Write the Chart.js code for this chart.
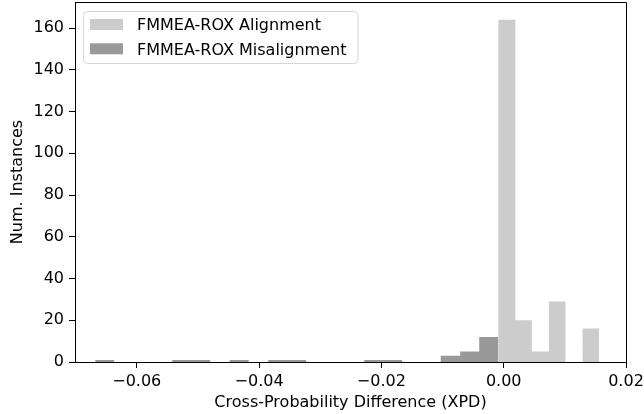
<!DOCTYPE html>
<html>
<head>
<meta charset="utf-8">
<script src="https://cdn.jsdelivr.net/npm/chart.js@4.4.0/dist/chart.umd.min.js"></script>
<style>
  html, body { margin: 0; padding: 0; background: #fff; }
</style>
</head>
<body>
<canvas id="xpdhist" width="644" height="414"></canvas>
<script>
// histogram bins: left edge of each bin (plus the closing edge) and the count in it
const alignEdges = [-0.0009, 0.0019, 0.0046, 0.0074, 0.0101, 0.0129, 0.0156];
const alignCounts = [164, 20, 5, 29, 0, 16];

const misalignEdges = [-0.0668, -0.0637, -0.0605, -0.0574, -0.0542, -0.0511, -0.0480, -0.0448,
  -0.0417, -0.0385, -0.0354, -0.0323, -0.0291, -0.0260, -0.0228, -0.0197, -0.0166, -0.0134,
  -0.0103, -0.0071, -0.0040, -0.0009];
const misalignCounts = [1, 0, 0, 0, 1, 1, 0, 1, 0, 1, 1, 0, 0, 0, 1, 1, 0, 0, 3, 5, 12];

const xTicks = [-0.06, -0.04, -0.02, 0.00, 0.02];
const yTicks = [0, 20, 40, 60, 80, 100, 120, 140, 160];

Chart.defaults.font.family = '"DejaVu Sans", sans-serif';
Chart.defaults.font.size = 16;
Chart.defaults.color = '#000';

// each bin holds its count up to the next edge (stepped line, filled down to 0)
function steps(edges, counts) {
  return edges.map((e, i) => ({ x: e, y: i < counts.length ? counts[i] : 0 }));
}

// axes keep a fixed size and don't push the plot area in for their edge labels
function fixSize(prop, size) {
  return a => {
    a[prop] = size;
    a.paddingTop = a.paddingBottom = a.paddingLeft = a.paddingRight = 0;
  };
}

// matplotlib-like legend box in the upper left corner of the plot
const legendBox = {
  id: 'legendBox',
  afterDraw(chart) {
    const { ctx, chartArea } = chart;
    ctx.save();
    ctx.font = '16px "DejaVu Sans"';
    const items = chart.data.datasets.map(ds => ({ text: ds.label, color: ds.backgroundColor }));
    const textW = Math.max(...items.map(it => ctx.measureText(it.text).width));
    const x = chartArea.left + 8, y = chartArea.top + 9;
    const w = 7 + 33 + 14 + textW + 11, h = 52;
    ctx.beginPath();
    ctx.roundRect(x + 0.5, y + 0.5, w, h, 4);
    ctx.fillStyle = 'rgba(255,255,255,0.8)';
    ctx.fill();
    ctx.strokeStyle = 'rgba(204,204,204,0.8)';
    ctx.lineWidth = 1;
    ctx.stroke();
    items.forEach((it, i) => {
      const rowY = y + 8 + i * 24.3;
      ctx.fillStyle = it.color;
      ctx.fillRect(x + 7, rowY, 33, 11);
      ctx.fillStyle = '#000';
      ctx.textBaseline = 'alphabetic';
      ctx.fillText(it.text, x + 54, rowY + 11.3);
    });
    ctx.restore();
  }
};

// top and right spines
const frame = {
  id: 'frame',
  afterDraw(chart) {
    const { ctx, chartArea: a } = chart;
    ctx.save();
    ctx.strokeStyle = '#000';
    ctx.lineWidth = 1;
    ctx.beginPath();
    ctx.moveTo(Math.round(a.left) + 0.5, Math.round(a.top) + 0.5);
    ctx.lineTo(Math.round(a.right) + 0.5, Math.round(a.top) + 0.5);
    ctx.lineTo(Math.round(a.right) + 0.5, Math.round(a.bottom) + 0.5);
    ctx.stroke();
    ctx.restore();
  }
};

new Chart('xpdhist', {
  type: 'line',
  data: {
    datasets: [{
      label: 'FMMEA-ROX Alignment',
      data: steps(alignEdges, alignCounts),
      backgroundColor: 'rgb(204, 204, 204)',
      borderColor: 'rgba(0, 0, 0, 0)',
      borderWidth: 0,
      stepped: 'before',
      fill: 'origin',
      pointRadius: 0
    }, {
      label: 'FMMEA-ROX Misalignment',
      data: steps(misalignEdges, misalignCounts),
      backgroundColor: 'rgb(153, 153, 153)',
      borderColor: 'rgba(0, 0, 0, 0)',
      borderWidth: 0,
      stepped: 'before',
      fill: 'origin',
      pointRadius: 0
    }]
  },
  options: {
    responsive: false,
    animation: false,
    devicePixelRatio: 1,
    layout: { padding: { top: 2, right: 18, left: 0, bottom: 0 } },
    plugins: { legend: { display: false }, tooltip: { enabled: false } },
    events: [],
    scales: {
      x: {
        type: 'linear',
        min: -0.0701,
        max: 0.02,
        afterBuildTicks: a => { a.ticks = xTicks.map(v => ({ value: v })); },
        afterFit: fixSize('height', 52),
        grid: { drawOnChartArea: false, drawTicks: true, tickLength: 6, color: '#000', tickWidth: 1 },
        border: { display: true, color: '#000', width: 1 },
        ticks: {
          padding: 4,
          maxRotation: 0,
          callback: v => (v < 0 ? '\u2212' : '') + Math.abs(v).toFixed(2)
        },
        title: { display: true, text: 'Cross-Probability Difference (XPD)', padding: { top: 0, bottom: 2 } }
      },
      y: {
        min: 0,
        max: 172.5,
        afterBuildTicks: a => { a.ticks = yTicks.map(v => ({ value: v })); },
        afterFit: fixSize('width', 75),
        grid: { drawOnChartArea: false, drawTicks: true, tickLength: 6, color: '#000', tickWidth: 1 },
        border: { display: true, color: '#000', width: 1 },
        ticks: { padding: 5 },
        title: { display: true, text: 'Num. Instances', padding: { top: 8, bottom: 0 } }
      }
    }
  },
  plugins: [legendBox, frame]
});
</script>
</body>
</html>
